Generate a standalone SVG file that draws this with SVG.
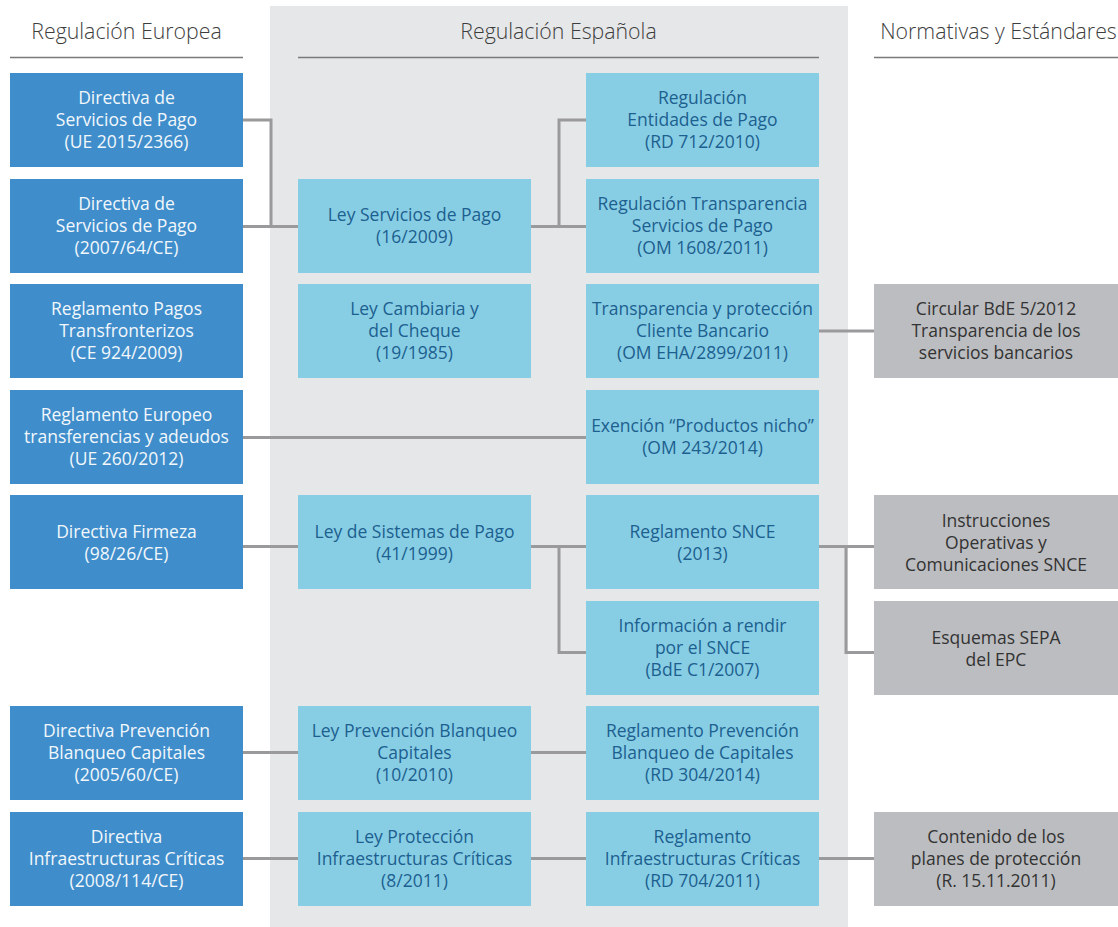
<svg xmlns="http://www.w3.org/2000/svg" width="1118" height="927" viewBox="0 0 1118 927">
  <style>
    text { font-family: "Open Sans", "Noto Sans", "DejaVu Sans", sans-serif; text-anchor: middle; }
    .hdr { font-size: 21.3px; font-weight: 300; fill: #3d3d3d; }
    .rule { stroke: #7a7a7c; stroke-width: 1.6; fill: none; }
    .eu rect { fill: #3f8ecb; }
    .eu text { fill: #f2f7fc; font-size: 17.5px; }
    .es rect { fill: #87cee5; }
    .es text { fill: #1d5f8f; font-size: 17.5px; }
    .std rect { fill: #bcbdc0; }
    .std text { fill: #333333; font-size: 17.5px; }
    #connectors path { stroke: #9a9a9c; stroke-width: 3; fill: none; }
  </style>

  <!-- Spanish regulation backdrop -->
  <rect id="panel-es" x="270" y="6" width="578" height="921" fill="#e6e7e9"/>

  <!-- Column headings -->
  <g id="headers">
    <text class="hdr" x="126.5" y="39">Regulación Europea</text>
    <line class="rule" x1="10" y1="57.5" x2="243" y2="57.5"/>
    <text class="hdr" x="558.5" y="39">Regulación Española</text>
    <line class="rule" x1="298" y1="57.5" x2="819" y2="57.5"/>
    <text class="hdr" x="998.5" y="39">Normativas y Estándares</text>
    <line class="rule" x1="874" y1="57.5" x2="1118" y2="57.5"/>
  </g>

  <!-- Connectors -->
  <g id="connectors">
    <path d="M243,120 H271 V226.5"/>
    <path d="M243,226.5 H298"/>
    <path d="M531,226.5 H586"/>
    <path d="M559,226.5 V120 H586"/>
    <path d="M819,331 H874"/>
    <path d="M243,437.5 H586"/>
    <path d="M243,546.5 H298"/>
    <path d="M531,546.5 H586"/>
    <path d="M559,546.5 V652.5 H586"/>
    <path d="M819,546.5 H874"/>
    <path d="M846,546.5 V652.5 H874"/>
    <path d="M243,752.5 H298"/>
    <path d="M531,752.5 H586"/>
    <path d="M243,858.5 H298"/>
    <path d="M531,858.5 H586"/>
    <path d="M819,858.5 H874"/>
  </g>

  <!-- European regulation -->
  <g id="eu-psd2" class="eu">
    <rect x="10" y="73" width="233" height="94"/>
    <text x="126.5" y="104">Directiva de</text>
    <text x="126.5" y="126">Servicios de Pago</text>
    <text x="126.5" y="148">(UE 2015/2366)</text>
  </g>
  <g id="eu-psd1" class="eu">
    <rect x="10" y="179" width="233" height="94"/>
    <text x="126.5" y="210">Directiva de</text>
    <text x="126.5" y="232">Servicios de Pago</text>
    <text x="126.5" y="254">(2007/64/CE)</text>
  </g>
  <g id="eu-cross-border" class="eu">
    <rect x="10" y="284" width="233" height="94"/>
    <text x="126.5" y="315">Reglamento Pagos</text>
    <text x="126.5" y="337">Transfronterizos</text>
    <text x="126.5" y="359">(CE 924/2009)</text>
  </g>
  <g id="eu-sepa" class="eu">
    <rect x="10" y="390" width="233" height="94"/>
    <text x="126.5" y="420.5">Reglamento Europeo</text>
    <text x="126.5" y="442.5">transferencias y adeudos</text>
    <text x="126.5" y="464.5">(UE 260/2012)</text>
  </g>
  <g id="eu-finality" class="eu">
    <rect x="10" y="495" width="233" height="94"/>
    <text x="126.5" y="537.5">Directiva Firmeza</text>
    <text x="126.5" y="559.5">(98/26/CE)</text>
  </g>
  <g id="eu-aml" class="eu">
    <rect x="10" y="706" width="233" height="94"/>
    <text x="126.5" y="737">Directiva Prevención</text>
    <text x="126.5" y="759">Blanqueo Capitales</text>
    <text x="126.5" y="781">(2005/60/CE)</text>
  </g>
  <g id="eu-critical" class="eu">
    <rect x="10" y="812" width="233" height="94"/>
    <text x="126.5" y="842.5">Directiva</text>
    <text x="126.5" y="864.5">Infraestructuras Críticas</text>
    <text x="126.5" y="886.5">(2008/114/CE)</text>
  </g>

  <!-- Spanish laws -->
  <g id="es-lsp" class="es">
    <rect x="298" y="179" width="233" height="94"/>
    <text x="414.5" y="221">Ley Servicios de Pago</text>
    <text x="414.5" y="243">(16/2009)</text>
  </g>
  <g id="es-cheque" class="es">
    <rect x="298" y="284" width="233" height="94"/>
    <text x="414.5" y="315">Ley Cambiaria y</text>
    <text x="414.5" y="337">del Cheque</text>
    <text x="414.5" y="359">(19/1985)</text>
  </g>
  <g id="es-lsisp" class="es">
    <rect x="298" y="495" width="233" height="94"/>
    <text x="414.5" y="537.5">Ley de Sistemas de Pago</text>
    <text x="414.5" y="559.5">(41/1999)</text>
  </g>
  <g id="es-lpbc" class="es">
    <rect x="298" y="706" width="233" height="94"/>
    <text x="414.5" y="737">Ley Prevención Blanqueo</text>
    <text x="414.5" y="759">Capitales</text>
    <text x="414.5" y="781">(10/2010)</text>
  </g>
  <g id="es-lpic" class="es">
    <rect x="298" y="812" width="233" height="94"/>
    <text x="414.5" y="842.5">Ley Protección</text>
    <text x="414.5" y="864.5">Infraestructuras Críticas</text>
    <text x="414.5" y="886.5">(8/2011)</text>
  </g>

  <!-- Spanish implementing rules -->
  <g id="es-rd712" class="es">
    <rect x="586" y="73" width="233" height="94"/>
    <text x="702.5" y="104">Regulación</text>
    <text x="702.5" y="126">Entidades de Pago</text>
    <text x="702.5" y="148">(RD 712/2010)</text>
  </g>
  <g id="es-om1608" class="es">
    <rect x="586" y="179" width="233" height="94"/>
    <text x="702.5" y="210">Regulación Transparencia</text>
    <text x="702.5" y="232">Servicios de Pago</text>
    <text x="702.5" y="254">(OM 1608/2011)</text>
  </g>
  <g id="es-om2899" class="es">
    <rect x="586" y="284" width="233" height="94"/>
    <text x="702.5" y="315">Transparencia y protección</text>
    <text x="702.5" y="337">Cliente Bancario</text>
    <text x="702.5" y="359">(OM EHA/2899/2011)</text>
  </g>
  <g id="es-om243" class="es">
    <rect x="586" y="390" width="233" height="94"/>
    <text x="702.5" y="431.5">Exención “Productos nicho”</text>
    <text x="702.5" y="453.5">(OM 243/2014)</text>
  </g>
  <g id="es-snce" class="es">
    <rect x="586" y="495" width="233" height="94"/>
    <text x="702.5" y="537.5">Reglamento SNCE</text>
    <text x="702.5" y="559.5">(2013)</text>
  </g>
  <g id="es-c1-2007" class="es">
    <rect x="586" y="601" width="233" height="94"/>
    <text x="702.5" y="632">Información a rendir</text>
    <text x="702.5" y="654">por el SNCE</text>
    <text x="702.5" y="676">(BdE C1/2007)</text>
  </g>
  <g id="es-rd304" class="es">
    <rect x="586" y="706" width="233" height="94"/>
    <text x="702.5" y="737">Reglamento Prevención</text>
    <text x="702.5" y="759">Blanqueo de Capitales</text>
    <text x="702.5" y="781">(RD 304/2014)</text>
  </g>
  <g id="es-rd704" class="es">
    <rect x="586" y="812" width="233" height="94"/>
    <text x="702.5" y="842.5">Reglamento</text>
    <text x="702.5" y="864.5">Infraestructuras Críticas</text>
    <text x="702.5" y="886.5">(RD 704/2011)</text>
  </g>

  <!-- Standards and guidelines -->
  <g id="std-circular" class="std">
    <rect x="874" y="284" width="244" height="94"/>
    <text x="996" y="315">Circular BdE 5/2012</text>
    <text x="996" y="337">Transparencia de los</text>
    <text x="996" y="359">servicios bancarios</text>
  </g>
  <g id="std-snce" class="std">
    <rect x="874" y="495" width="244" height="94"/>
    <text x="996" y="526.5">Instrucciones</text>
    <text x="996" y="548.5">Operativas y</text>
    <text x="996" y="570.5">Comunicaciones SNCE</text>
  </g>
  <g id="std-sepa" class="std">
    <rect x="874" y="601" width="244" height="94"/>
    <text x="996" y="643.5">Esquemas SEPA</text>
    <text x="996" y="665.5">del EPC</text>
  </g>
  <g id="std-plans" class="std">
    <rect x="874" y="812" width="244" height="94"/>
    <text x="996" y="842.5">Contenido de los</text>
    <text x="996" y="864.5">planes de protección</text>
    <text x="996" y="886.5">(R. 15.11.2011)</text>
  </g>
</svg>
